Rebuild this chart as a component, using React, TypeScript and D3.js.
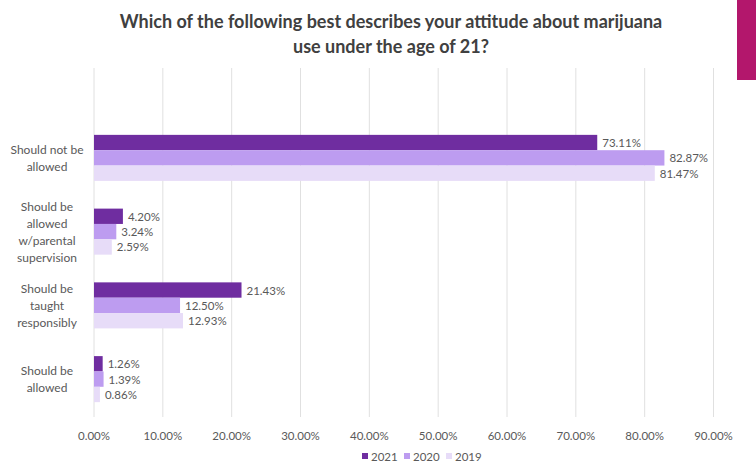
import React from "react";
import * as d3 from "d3";

const categories = ["Should not be allowed", "Should be allowed w/parental supervision", "Should be taught responsibly", "Should be allowed"];
const categoryLines = [["Should not be", "allowed"], ["Should be", "allowed", "w/parental", "supervision"], ["Should be", "taught", "responsibly"], ["Should be", "allowed"]];
const seriesNames = ["2021", "2020", "2019"];
const values2021 = [73.11, 4.2, 21.43, 1.26];
const values2020 = [82.87, 3.24, 12.5, 1.39];
const values2019 = [81.47, 2.59, 12.93, 0.86];
const xTicks = [0, 10, 20, 30, 40, 50, 60, 70, 80, 90];
const colors = ["#6F2DA0", "#BD9CF0", "#E7DCF8"];

const W = 756, H = 463;
const FONT = "Lato, 'DejaVu Sans', sans-serif";

export default function App() {
  const series = [values2021, values2020, values2019];
  const x = d3.scaleLinear().domain([0, 90]).range([94, 713.5]);
  const y = d3.scaleBand<string>().domain(categories).range([121, 416]).paddingInner(0.376).paddingOuter(0.188);
  const yi = d3.scaleBand<string>().domain(seriesNames).range([0, y.bandwidth()]);
  const gridTop = 68, gridBottom = 417;

  const legend = d3.scalePoint<string>().domain(seriesNames).range([362, 446]);

  return (
    <svg width={W} height={H} style={{ position: "absolute", left: 0, top: 0, background: "#fff" }} fontFamily={FONT}>
      <rect x={737} y={0} width={19} height={80} fill="#B3176C" />
      <text x={391} y={28} textAnchor="middle" fontSize={18} fontWeight="bold" fill="#404040">Which of the following best describes your attitude about marijuana</text>
      <text x={391} y={53} textAnchor="middle" fontSize={18} fontWeight="bold" fill="#404040">use under the age of 21?</text>
      {xTicks.map((t) => (
        <g key={t}>
          <line x1={x(t)} x2={x(t)} y1={gridTop} y2={gridBottom} stroke="#e0e0e0" strokeWidth={1} />
          <text x={x(t)} y={440} textAnchor="middle" fontSize={11.5} fill="#595959">{t.toFixed(2)}%</text>
        </g>
      ))}
      {categories.map((c, ci) => {
        const lines = categoryLines[ci];
        const cy = (y(c) ?? 0) + y.bandwidth() / 2;
        const lh = 17;
        return (
          <g key={c}>
            {lines.map((l, li) => (
              <text key={li} x={47} y={cy + (li - (lines.length - 1) / 2) * lh} textAnchor="middle" dominantBaseline="central" fontSize={12} fill="#595959">{l}</text>
            ))}
            {series.map((vals, si) => {
              const by = (y(c) ?? 0) + (yi(seriesNames[si]) ?? 0);
              const v = vals[ci];
              return (
                <g key={si}>
                  <rect x={x(0)} y={by} width={x(v) - x(0)} height={yi.bandwidth()} fill={colors[si]} />
                  <text x={x(v) + 5} y={by + yi.bandwidth() / 2} dominantBaseline="central" fontSize={11.5} fill="#595959">{v.toFixed(2)}%</text>
                </g>
              );
            })}
          </g>
        );
      })}
      {seriesNames.map((s, si) => (
        <g key={s}>
          <rect x={legend(s) ?? 0} y={453} width={6} height={6} fill={colors[si]} />
          <text x={(legend(s) ?? 0) + 9} y={456} dominantBaseline="central" fontSize={11.5} fill="#595959">{s}</text>
        </g>
      ))}
    </svg>
  );
}
